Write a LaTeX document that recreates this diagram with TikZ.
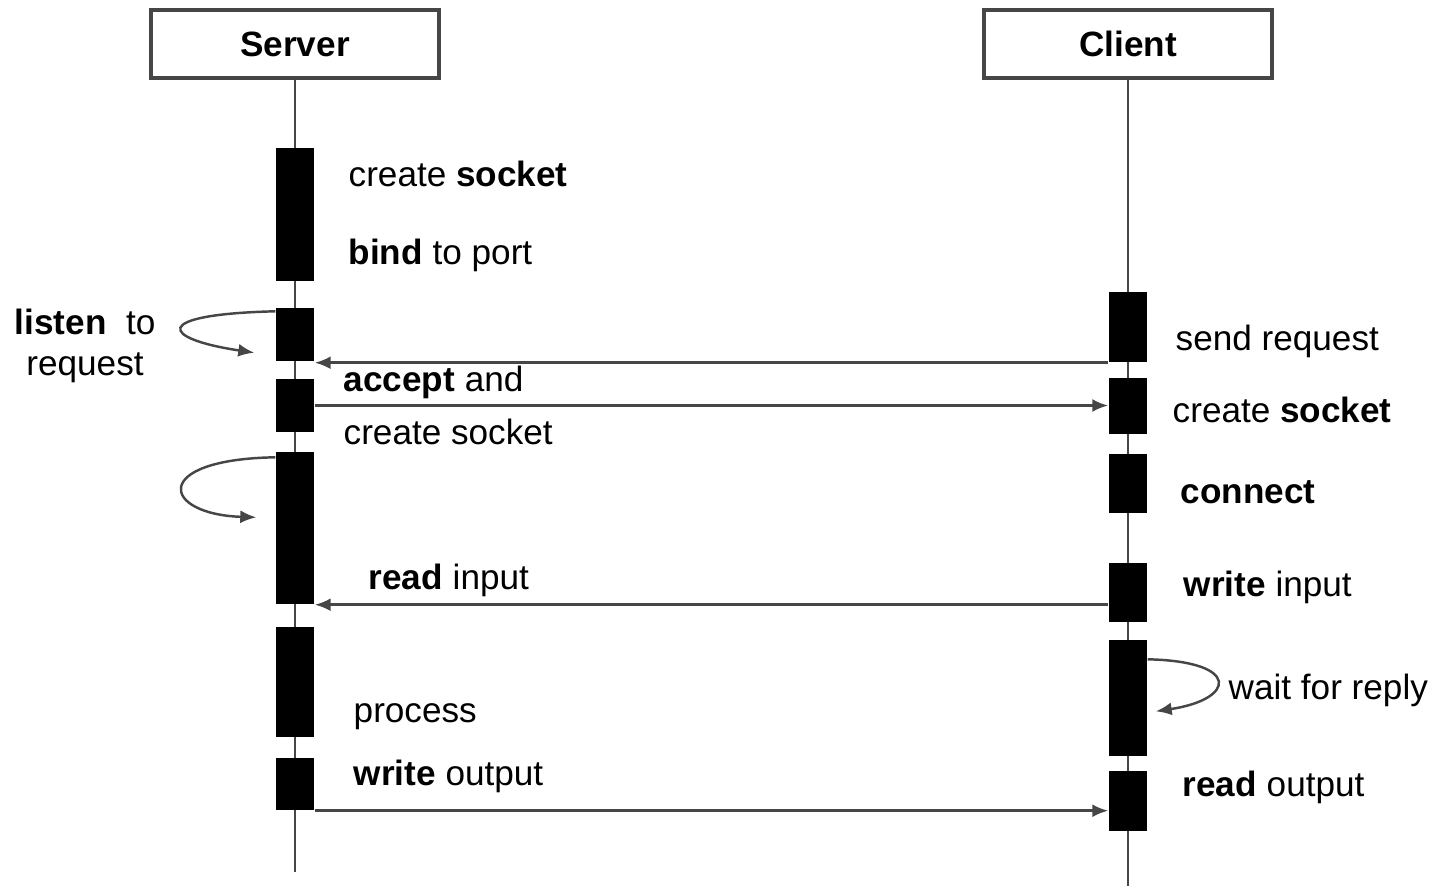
\documentclass[tikz,border=0pt]{standalone}
\usepackage{fontspec}
\setmainfont{Liberation Sans}
\usetikzlibrary{calc,arrows.meta}
\definecolor{LineGray}{RGB}{70,70,70}
\tikzset{
  lifebox/.style={draw=LineGray, line width=1pt, minimum width=2.88cm, minimum height=0.68cm, font=\bfseries},
  actbar/.style={fill=black, draw=none, minimum width=0.38cm, inner sep=0pt},
  lifeline/.style={draw=LineGray, line width=0.8pt},
  msg/.style={draw=LineGray, line width=0.8pt, -{Latex[length=1.6mm,width=1.3mm]}},
  selfmsg/.style={msg, line width=0.7pt},
  lbl/.style={anchor=base west, inner sep=0pt},
}

\begin{document}
\begin{tikzpicture}[font=\fontsize{10}{11.5}\selectfont]
  \useasboundingbox (0,0) rectangle (14.3,-8.86);
  \def\sx{2.95}
  \def\cx{11.28}

  % --- (A) Server side ---
  \begin{scope}
    \node[lifebox] (srv) at (\sx,-0.44) {Server};
    \coordinate (srvEnd) at (\sx,-8.72);
    \draw[lifeline] (srv.south) -- (srvEnd);

    % activation bars, top to bottom
    \node[actbar, minimum height=1.33cm] (s1) at (\sx,-2.145) {};
    \node[actbar, minimum height=0.53cm] (s2) at (\sx,-3.345) {};
    \node[actbar, minimum height=0.53cm] (s3) at (\sx,-4.055) {};
    \node[actbar, minimum height=1.52cm] (s4) at (\sx,-5.28) {};
    \node[actbar, minimum height=1.10cm] (s5) at (\sx,-6.82) {};
    \node[actbar, minimum height=0.52cm] (s6) at (\sx,-7.84) {};

    \node[lbl] (sCreate) at (3.48,-1.86) {create \textbf{socket}};
    \node[lbl] (sBind) at (3.48,-2.64) {\textbf{bind} to port};
    \node[align=center, inner sep=0pt] (sListen) at (0.85,-3.46) {\textbf{listen}\ \ to\\request};
    \node[lbl] (sAccept) at (3.43,-3.91) {\textbf{accept} and};
    \node[lbl] (sSocket) at (3.43,-4.44) {create socket};
    \node[lbl] (sRead) at (3.68,-5.89) {\textbf{read} input};
    \node[lbl] (sProcess) at (3.53,-7.22) {process};
    \node[lbl] (sWrite) at (3.53,-7.85) {\textbf{write} output};

    % self calls on the left of the bars
    \draw[selfmsg] ($(s2.north west)+(0,-0.04)$)
      .. controls +(-1.26,-0.03) and +(-0.94,0.14) .. ($(s2.south west)+(-0.21,0.09)$);
    \draw[selfmsg] ($(s4.north west)+(0,-0.06)$)
      .. controls +(-1.26,-0.02) and +(-0.95,0.03) .. ($(s4.north west)+(-0.19,-0.66)$);
  \end{scope}

  % --- (B) Client side ---
  \begin{scope}
    \node[lifebox] (cli) at (\cx,-0.44) {Client};
    \coordinate (cliEnd) at (\cx,-8.86);
    \draw[lifeline] (cli.south) -- (cliEnd);

    \node[actbar, minimum height=0.70cm] (c1) at (\cx,-3.27) {};
    \node[actbar, minimum height=0.56cm] (c2) at (\cx,-4.06) {};
    \node[actbar, minimum height=0.59cm] (c3) at (\cx,-4.835) {};
    \node[actbar, minimum height=0.59cm] (c4) at (\cx,-5.925) {};
    \node[actbar, minimum height=1.16cm] (c5) at (\cx,-6.98) {};
    \node[actbar, minimum height=0.60cm] (c6) at (\cx,-8.01) {};

    \node[lbl] (cSend) at (11.75,-3.50) {send request};
    \node[lbl] (cCreate) at (11.72,-4.22) {create \textbf{socket}};
    \node[lbl] (cConnect) at (11.80,-5.03) {\textbf{connect}};
    \node[lbl] (cWrite) at (11.83,-5.96) {\textbf{write} input};
    \node[lbl] (cWait) at (12.28,-6.99) {wait for reply};
    \node[lbl] (cRead) at (11.82,-7.96) {\textbf{read} output};

    % waiting loop on the right of bar c5
    \draw[selfmsg] ($(c5.north east)+(0,-0.20)$)
      .. controls +(0.94,-0.02) and +(0.80,0.12) .. ($(c5.north east)+(0.08,-0.72)$);
  \end{scope}

  % --- (C) Messages between the two ---
  \draw[msg] (c1.south west) -- (c1.south west -| s2.east);
  \draw[msg] (s3.east) -- (s3.east -| c2.west);
  \draw[msg] (s4.south east -| c4.west) -- (s4.south east);
  \draw[msg] (s6.south east) -- (s6.south east -| c6.west);

\end{tikzpicture}
\end{document}
